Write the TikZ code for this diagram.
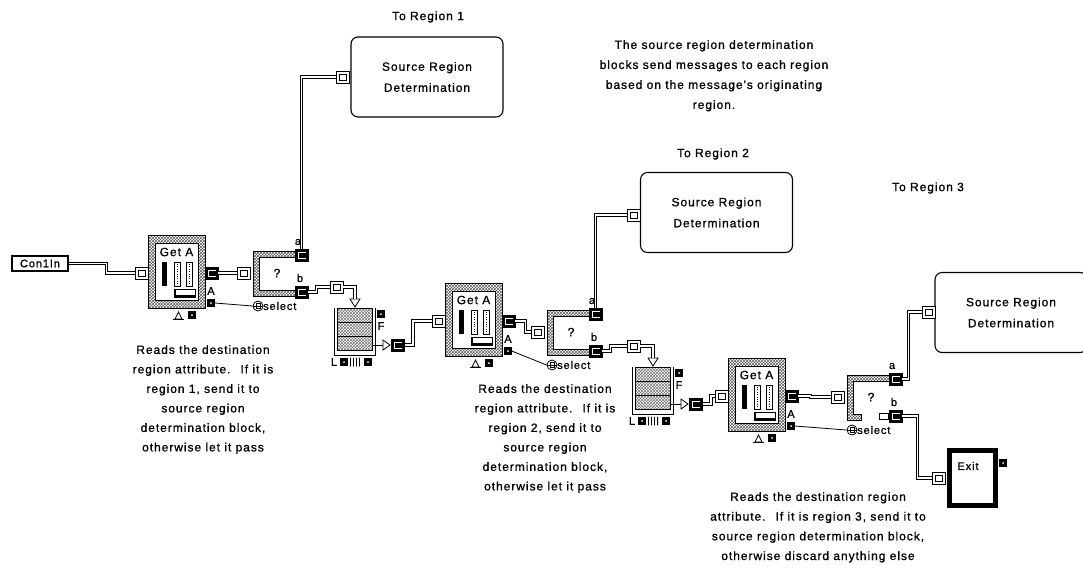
\documentclass[tikz,border=0pt]{standalone}
\usepackage{fontspec}
\usetikzlibrary{patterns}
\newfontfamily\lab[LetterSpace=8,FakeBold=1]{Liberation Sans}
\newcommand{\fdesc}{\lab\fontsize{12}{19.5}\selectfont}
\newcommand{\fsml}{\lab\fontsize{11}{12}\selectfont}
\tikzset{
  wire/.style={draw=black, line width=0.9pt, double=white, double distance=1.4pt},
  thinw/.style={draw=black, line width=0.8pt},
  inport/.style={draw, line width=0.9pt, fill=white, minimum width=13pt, minimum height=12pt, inner sep=0pt,
    path picture={\draw[line width=0.9pt] ([shift={(3pt,-3pt)}]path picture bounding box.north west) rectangle ([shift={(-3pt,3pt)}]path picture bounding box.south east);}},
  outport/.style={draw, line width=0.9pt, fill=black, minimum width=13pt, minimum height=12pt, inner sep=0pt,
    path picture={\draw[white, line width=0.9pt] ([shift={(-2.5pt,-3pt)}]path picture bounding box.north east) -- ([shift={(3pt,-3pt)}]path picture bounding box.north west) -- ([shift={(3pt,3pt)}]path picture bounding box.south west) -- ([shift={(-2.5pt,3pt)}]path picture bounding box.south east);}},
  smallport/.style={draw, fill=black, minimum size=7pt, inner sep=0pt,
    path picture={\fill[white] (path picture bounding box.center) circle (1pt);}},
  selcirc/.style={circle, draw, line width=0.8pt, fill=white, minimum size=10pt, inner sep=0pt,
    path picture={\draw[line width=0.7pt] ([shift={(-5pt,0pt)}]path picture bounding box.center) -- ([shift={(5pt,0pt)}]path picture bounding box.center);
      \draw[line width=0.6pt] ([shift={(-2pt,-2.5pt)}]path picture bounding box.center) rectangle ([shift={(2pt,2.5pt)}]path picture bounding box.center);}},
  srcbox/.style={draw, line width=1.1pt, rounded corners=7pt, minimum width=152pt, minimum height=80pt, align=center, font=\lab\fontsize{12}{21}\selectfont},
  hatch/.style={pattern=crosshatch, pattern color=black!65},
  desc/.style={align=center, inner sep=0pt, anchor=north, font=\fdesc},
  lbl/.style={inner sep=0pt, font=\fsml}
}
\newcommand{\GetABlk}[3]{%
\begin{scope}[shift={(#2,#3)}]
  \node[draw, line width=0.8pt, hatch, minimum width=57pt, minimum height=73pt, inner sep=0pt] (#1) at (28.5,36.5) {};
  \draw[fill=white, line width=0.8pt] (7,8) rectangle (50,65);
  \node[lbl, font=\lab\fontsize{12}{12}\selectfont] at (28.5,17) {Get A};
  \fill (14,27) rectangle (19,51);
  \draw[line width=0.8pt, fill=white] (26,27) rectangle (32,51);
  \draw[dotted] (29,29) -- (29,49);
  \draw[line width=0.8pt, fill=white] (38,27) rectangle (44,51);
  \draw[dotted] (41,29) -- (41,49);
  \draw[line width=0.6pt] (26,54) rectangle (47,62);
  \draw[line width=2pt] (27,54) -- (27,61) -- (47,61);
  \node[inport] (#1in) at (-6.5,38) {};
  \node[outport] (#1out) at (63.5,38) {};
  \node[lbl] at (63,56) {A};
  \node[smallport] (#1A) at (63,68) {};
  \draw[line width=0.8pt] (27,84) -- (30.5,77) -- (34,84) -- cycle;
  \draw[line width=0.8pt] (25,84) -- (36,84);
  \node[smallport] at (44,80) {};
\end{scope}}
% name, x, y, end of the bottom bar
\newcommand{\SelBlk}[4]{%
\begin{scope}[shift={(#2,#3)}]
  \draw[line width=0.8pt, hatch] (0,0) -- (42,0) -- (42,6) -- (6,6) -- (6,39) -- (#4,39) -- (#4,45) -- (0,45) -- cycle;
  \node[inner sep=0pt, font=\lab\fontsize{12}{12}\selectfont] at (24,22) {?};
  \node[outport] (#1a) at (48.5,4) {};
  \node[outport] (#1b) at (48.5,41) {};
  \node[lbl] at (47,27) {b};
  \node[lbl] at (45,-9) {a};
  \node[inport] (#1in) at (-9,22) {};
  \node[selcirc] (#1c) at (5,55) {};
  \node[lbl, anchor=west] at (10,55) {select};
\end{scope}}
\newcommand{\QueueBlk}[3]{%
\begin{scope}[shift={(#2,#3)}]
  \node[draw, line width=0.8pt, pattern=crosshatch, pattern color=black!55, minimum width=35pt, minimum height=42pt, inner sep=0pt, anchor=north west] (#1) at (0,0) {};
  \draw[line width=0.8pt] (0,14) -- (35,14) (0,28) -- (35,28);
  \draw[line width=1pt] (-3,0) -- (-3,47) -- (38,47) -- (38,0);
  \node[lbl] at (-3,54) {L};
  \node[smallport] at (7,54) {};
  \node[lbl] at (18,54) {\fontsize{9}{9}\selectfont ||||};
  \node[smallport] at (31,54) {};
  \draw[line width=0.8pt, fill=white] (13,-9) -- (23,-9) -- (18,-1) -- cycle;
  \coordinate (#1top) at (18,-9);
  \node[smallport] at (44,6) {};
  \node[lbl] at (44,18) {F};
  \draw[thinw] (35,37) -- (46,37);
  \draw[line width=0.8pt, fill=white] (46,32) -- (53,37) -- (46,42) -- cycle;
  \node[outport] (#1out) at (61,37) {};
\end{scope}}
\begin{document}
\begin{tikzpicture}[x=1pt,y=-1pt]
\useasboundingbox (0,0) rectangle (1083,571);
% source boxes
\node[srcbox] (src1) at (427,77) {Source Region\\Determination};
\node[srcbox] (src2) at (716.5,212.5) {Source Region\\Determination};
\node[srcbox] (src3) at (1011,312.5) {Source Region\\Determination};
\node[inport] (src1p) at (343,77) {};
\node[inport] (src2p) at (633.5,215) {};
\node[inport] (src3p) at (928.5,312) {};
\node[inner sep=0pt, font=\fdesc] (t1) at (428,17) {To Region 1};
\node[inner sep=0pt, font=\fdesc] (t2) at (713,154) {To Region 2};
\node[inner sep=0pt, font=\fdesc] (t3) at (928,188) {To Region 3};
\node[desc, font=\lab\fontsize{12}{20}\selectfont] (dtop) at (714,40) {The source region determination\\blocks send messages to each region\\based on the message's originating\\region.};
% input
\node[draw, line width=1.3pt, minimum width=56pt, minimum height=15pt, inner sep=0pt, font=\fsml] (con) at (40,263.5) {Con1In};
% blocks
\GetABlk{ga1}{148}{235}
\GetABlk{ga2}{445}{283}
\GetABlk{ga3}{728}{358}
\SelBlk{sel1}{253}{251}{42}
\SelBlk{sel2}{547}{310}{42}
\SelBlk{sel3}{847}{375}{14}
\draw[line width=0.8pt, fill=white] (879,413) rectangle (888,419);
\QueueBlk{q1}{337}{308}
\QueueBlk{q2}{635}{367}
\node[inport] (q1p) at (336.5,287) {};
\node[inport] (q2p) at (633.5,346) {};
% exit
\node[draw, line width=5pt, minimum width=46pt, minimum height=55pt, inner sep=0pt] (exit) at (972.5,478) {};
\node[lbl] (exitt) at (968,466) {Exit};
\node[inport] (exitin) at (939,478) {};
\node[smallport] (exitp) at (1003,463) {};
% wires
\draw[wire] (con.east) -- ++(38,0) |- (ga1in.west);
\draw[wire] (ga1out.east) -- ++(10,0) |- (sel1in.west);
\draw[wire] (sel1a.north) |- (src1p.west);
\draw[wire] (sel1b.east) -- ++(8,0) |- (q1p.west);
\draw[wire] (q1p.east) -| (q1top);
\draw[wire] (q1out.east) -- ++(8,0) |- (ga2in.west);
\draw[wire] (ga2out.east) -- ++(10,0) |- (sel2in.west);
\draw[wire] (sel2a.north) |- (src2p.west);
\draw[wire] (sel2b.east) -- ++(8,0) |- (q2p.west);
\draw[wire] (q2p.east) -| (q2top);
\draw[wire] (q2out.east) -- ++(8,0) |- (ga3in.west);
\draw[wire] (ga3out.east) -- ++(12,0) |- (sel3in.west);
\draw[wire] (sel3a.east) -- ++(6,0) |- (src3p.west);
\draw[wire] (sel3b.east) -- ++(15,0) |- (exitin.west);
\draw[thinw] (ga1A.east) -- (sel1c.west);
\draw[thinw] (ga2A.east) -- (sel2c.west);
\draw[thinw] (ga3A.east) -- (sel3c.west);
% descriptions
\node[desc] (d1) at (203,345) {Reads the destination\\region attribute.~ If it is\\region 1, send it to\\source region\\determination block,\\otherwise let it pass};
\node[desc] (d2) at (545,384) {Reads the destination\\region attribute.~ If it is\\region 2, send it to\\source region\\determination block,\\otherwise let it pass};
\node[desc, font=\lab\fontsize{12}{19.7}\selectfont] (d3) at (818,492) {Reads the destination region\\attribute.~ If it is region 3, send it to\\source region determination block,\\otherwise discard anything else};
\end{tikzpicture}
\end{document}
